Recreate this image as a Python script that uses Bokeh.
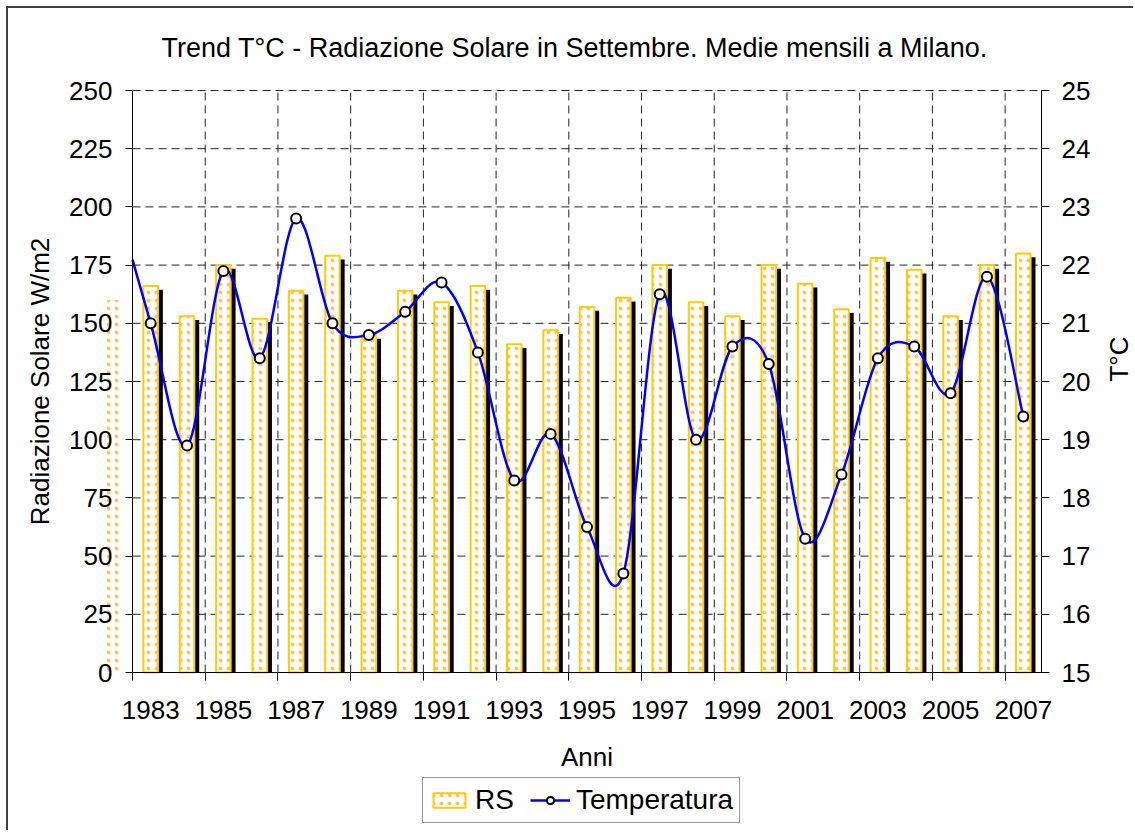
import math
from bokeh.plotting import figure
from bokeh.models import (Range1d, LinearAxis, FixedTicker, Legend, LegendItem,
                          ColumnDataSource, CDSView, IndexFilter)
from bokeh.transform import dodge
from bokeh.embed import file_html
from bokeh.resources import INLINE

# ---------------- data ----------------
years = list(range(1982, 2008))
rs = [160, 166, 153, 175, 152, 164, 179, 145, 164, 159, 166, 141, 147,
      157, 161, 175, 159, 153, 175, 167, 156, 178, 173, 153, 175, 180]
temp = [23.2, 21.0, 18.9, 21.9, 20.4, 22.8, 21.0, 20.8, 21.2, 21.7, 20.5,
        18.3, 19.1, 17.5, 16.7, 21.5, 19.0, 20.6, 20.3, 17.3, 18.4, 20.4,
        20.6, 19.8, 21.8, 19.4]
label_years = list(range(1983, 2008, 2))
rs_ticks = list(range(0, 251, 25))
t_ticks = list(range(15, 26))

FONT = "Liberation Sans"
FS = "26px"

# ---------------- layout (pixels) ----------------
W, H = 1127, 824
FRAME_TOP = 64                       # top of the drawing frame
BAND_TOP, LEFT, RIGHT = 82, 124, 94  # position of the plotting band
PLOT_PX = 582                        # height of the 0..250 band
BAND_BOTTOM = BAND_TOP + PLOT_PX
ext_lo = (H - BAND_BOTTOM) / PLOT_PX
ext_hi = (BAND_TOP - FRAME_TOP) / PLOT_PX

rs_lo, rs_hi = rs_ticks[0], rs_ticks[-1]
t_lo, t_hi = t_ticks[0], t_ticks[-1]
x_lo, x_hi = years[1] - 0.5, years[-1] + 0.5
ppy = (W - LEFT - RIGHT) / (x_hi - x_lo)

n = len(years)
src = ColumnDataSource(dict(year=years, rs=rs, temp=temp))
shown = CDSView(filter=IndexFilter(list(range(1, n))))
lead = CDSView(filter=IndexFilter([0]))

p = figure(width=W, height=H,
           x_range=Range1d(x_lo - LEFT / ppy, x_hi + RIGHT / ppy),
           y_range=Range1d(rs_lo - ext_lo * (rs_hi - rs_lo),
                           rs_hi + ext_hi * (rs_hi - rs_lo)),
           output_backend="svg", toolbar_location=None,
           min_border_left=0, min_border_right=0,
           min_border_top=FRAME_TOP, min_border_bottom=0,
           background_fill_color="white", border_fill_color="white",
           outline_line_color=None)
p.extra_y_ranges = {"t": Range1d(t_lo - ext_lo * (t_hi - t_lo),
                                 t_hi + ext_hi * (t_hi - t_lo))}
p.styles = {"margin-left": "6px", "margin-top": "6px",
            "border-left": "2px solid #404040",
            "border-top": "2px solid #404040"}

# title
p.title.text = "Trend T°C - Radiazione Solare in Settembre. Medie mensili a Milano."
p.title.align = "left"
p.title.offset = 153
p.title.text_font = FONT
p.title.text_font_size = "27px"
p.title.text_font_style = "normal"
p.title.text_color = "black"
p.title.standoff = 19

# grids (limited to the plotting band)
p.xgrid.visible = False
p.ygrid.visible = False
hy = rs_ticks[1:]
p.segment(x0=[x_lo] * len(hy), y0=hy, x1=[x_hi] * len(hy), y1=hy,
          line_color="#222222", line_dash="8 5", line_width=1, level="underlay")
vx = [y - 0.5 for y in label_years[1:]]
p.segment(x0=vx, y0=[rs_lo] * len(vx), x1=vx, y1=[rs_hi] * len(vx),
          line_color="#222222", line_dash="8 5", line_width=1, level="underlay")

# bottom axis: tick marks at category boundaries, no labels
xa = p.xaxis[0]
xa.fixed_location = rs_lo
xa.bounds = (x_lo, x_hi)
xa.ticker = FixedTicker(ticks=[y - 0.5 for y in label_years])
xa.axis_line_color = "black"
xa.major_tick_line_color = "black"
xa.major_tick_out = 8
xa.major_tick_in = 0
xa.minor_tick_line_color = None
xa.major_label_text_color = None
xa.major_label_text_font_size = "1px"
xa.major_label_standoff = 0

# second bottom axis: year labels at category centres
xl = LinearAxis(fixed_location=rs_lo, bounds=(x_lo, x_hi),
                ticker=FixedTicker(ticks=label_years),
                axis_line_color=None, major_tick_line_color=None,
                minor_tick_line_color=None, major_tick_out=0, major_tick_in=0,
                major_label_standoff=28,
                major_label_text_font=FONT, major_label_text_font_size=FS,
                major_label_text_color="black",
                axis_label="Anni", axis_label_standoff=20,
                axis_label_text_font=FONT, axis_label_text_font_size=FS,
                axis_label_text_font_style="normal",
                axis_label_text_color="black")
p.add_layout(xl, "below")

# left axis
ya = p.yaxis[0]
ya.fixed_location = x_lo
ya.bounds = (rs_lo, rs_hi)
ya.ticker = FixedTicker(ticks=rs_ticks)
ya.axis_line_color = "black"
ya.major_tick_line_color = "black"
ya.major_tick_out = 7
ya.major_tick_in = 0
ya.minor_tick_line_color = None
ya.major_label_standoff = 13
ya.major_label_text_font = FONT
ya.major_label_text_font_size = FS
ya.major_label_text_color = "black"
ya.axis_label = "Radiazione Solare W/m2"
ya.axis_label_standoff = 11
ya.axis_label_text_font = FONT
ya.axis_label_text_font_size = FS
ya.axis_label_text_font_style = "normal"
ya.axis_label_text_color = "black"

# right axis
yr = LinearAxis(y_range_name="t", fixed_location=x_hi, bounds=(t_lo, t_hi),
                ticker=FixedTicker(ticks=t_ticks),
                axis_line_color="black", major_tick_line_color="black",
                major_tick_out=8, major_tick_in=0, minor_tick_line_color=None,
                major_label_standoff=12,
                major_label_text_font=FONT, major_label_text_font_size=FS,
                major_label_text_color="black",
                axis_label="T°C", axis_label_standoff=26,
                axis_label_orientation=math.pi / 2,
                axis_label_text_font=FONT, axis_label_text_font_size=FS,
                axis_label_text_font_style="normal",
                axis_label_text_color="black")
p.add_layout(yr, "right")

HATCH = dict(hatch_pattern="dot", hatch_color="#FF9900", hatch_scale=8,
             hatch_weight=1.5, hatch_alpha=0.6)

# 1982 bar, partly visible left of the axis (as in the source chart)
p.vbar(x="year", top="rs", bottom=rs_lo, width=0.40, source=src, view=lead,
       fill_color="white", line_color=None, **HATCH)
# bar shadows
p.vbar(x=dodge("year", 0.115), top=dodge("rs", -1.6), bottom=rs_lo, width=0.44,
       source=src, view=shown, fill_color="black", line_color=None)
# bars
bars = p.vbar(x="year", top="rs", bottom=rs_lo, width=0.40, source=src, view=shown,
              fill_color="white", line_color="#FFCC00", line_width=2, **HATCH)

# smoothed temperature line (Bezier segments, Excel-like smoothing)
def lerp(a, b, t):
    return a + (b - a) * t

bz = dict(x0=[], y0=[], x1=[], y1=[], cx0=[], cy0=[], cx1=[], cy1=[])
for i in range(n - 1):
    im, ip = max(i - 1, 0), min(i + 2, n - 1)
    P = [(years[i], temp[i]),
         (years[i] + (years[i + 1] - years[im]) / 6,
          temp[i] + (temp[i + 1] - temp[im]) / 6),
         (years[i + 1] - (years[ip] - years[i]) / 6,
          temp[i + 1] - (temp[ip] - temp[i]) / 6),
         (years[i + 1], temp[i + 1])]
    if P[0][0] < x_lo:  # keep only the part inside the plotting band
        lo, hi = 0.0, 1.0
        for _ in range(60):
            t = (lo + hi) / 2
            a = [lerp(P[k][0], P[k + 1][0], t) for k in range(3)]
            b = [lerp(a[k], a[k + 1], t) for k in range(2)]
            if lerp(b[0], b[1], t) < x_lo:
                lo = t
            else:
                hi = t
        t = (lo + hi) / 2
        A = [tuple(lerp(P[k][d], P[k + 1][d], t) for d in range(2)) for k in range(3)]
        B = [tuple(lerp(A[k][d], A[k + 1][d], t) for d in range(2)) for k in range(2)]
        C = tuple(lerp(B[0][d], B[1][d], t) for d in range(2))
        P = [C, B[1], A[2], P[3]]
    bz["x0"].append(P[0][0]); bz["y0"].append(P[0][1])
    bz["cx0"].append(P[1][0]); bz["cy0"].append(P[1][1])
    bz["cx1"].append(P[2][0]); bz["cy1"].append(P[2][1])
    bz["x1"].append(P[3][0]); bz["y1"].append(P[3][1])
curve = p.bezier(source=ColumnDataSource(bz), x0="x0", y0="y0", x1="x1", y1="y1",
                 cx0="cx0", cy0="cy0", cx1="cx1", cy1="cy1",
                 y_range_name="t", line_color="#0000FF", line_width=2.5)
pts = p.scatter(x="year", y="temp", source=src, view=shown, y_range_name="t",
                marker="circle", size=10, fill_color="white",
                line_color="black", line_width=2)

legend = Legend(items=[LegendItem(label="RS", renderers=[bars]),
                       LegendItem(label="Temperatura", renderers=[curve, pts])],
                orientation="horizontal", location=(LEFT + 290, 9),
                border_line_color="#333333", border_line_width=1,
                background_fill_color="white", background_fill_alpha=1,
                padding=6, spacing=16, margin=0,
                glyph_width=40, glyph_height=18, label_standoff=6,
                label_height=24,
                label_text_font=FONT, label_text_font_size="28px",
                label_text_color="black")
p.add_layout(legend)

open("out.html", "w").write(file_html(p, INLINE))
